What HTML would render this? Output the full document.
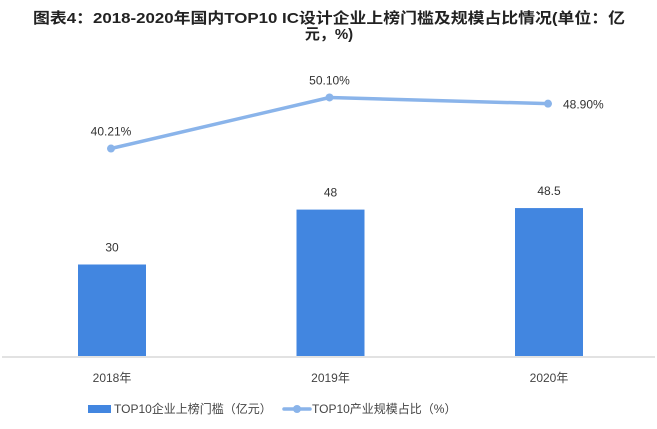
<!DOCTYPE html>
<html><head><meta charset="utf-8"><style>
body{margin:0;background:#fff}
svg{display:block;font-family:"Liberation Sans","Noto Sans CJK SC",sans-serif}
</style></head><body>
<svg id="c" width="657" height="429" viewBox="0 0 657 429">
<text x="329" y="23" text-anchor="middle" font-size="15" font-weight="bold" fill="#222" textLength="592" lengthAdjust="spacingAndGlyphs">图表4：2018-2020年国内TOP10 IC设计企业上榜门槛及规模占比情况(单位：亿</text>
<text x="329" y="39" text-anchor="middle" font-size="15" font-weight="bold" fill="#222">元，%)</text>
<line x1="2" y1="357" x2="655" y2="357" stroke="#d9d9d9" stroke-width="1.5"/>
<g id="bars"></g><g id="line"></g><g id="xl"></g>
<g>
<rect x="88" y="405" width="23" height="8" fill="#4286e0"/>
<text x="114" y="413" font-size="12" fill="#444">TOP10企业上榜门槛（亿元）</text>
<line x1="284" y1="409" x2="310" y2="409" stroke="#8ab4ea" stroke-width="3.5" stroke-linecap="round"/>
<circle cx="297" cy="409" r="4" fill="#8ab4ea"/>
<text x="312" y="413" font-size="12" fill="#444">TOP10产业规模占比（%）</text>
</g>
</svg>
<script>
const categories=["2018年","2019年","2020年"];
const barValues=[30,48,48.5];
const lineValues=[40.21,50.10,48.90];
const lineLabels=["40.21%","50.10%","48.90%"];
const ns="http://www.w3.org/2000/svg";
const base=356;
const xC=i=>112+i*218.5;
const yBar=v=>base-v*3.05;
const yLine=v=>base-v*5.16;
function mk(t,a,p){const e=document.createElementNS(ns,t);for(const k in a)e.setAttribute(k,a[k]);p.appendChild(e);return e;}
const bars=document.getElementById('bars'),line=document.getElementById('line'),xl=document.getElementById('xl');
barValues.forEach((v,i)=>{
 const r=mk('rect',{x:xC(i)-34,y:yBar(v),width:68,height:base-yBar(v),fill:'#4286e0'},bars);
 
 
 const t=mk('text',{x:xC(i),y:yBar(v)-13,'text-anchor':'middle','font-size':12,fill:'#333'},bars);
 t.textContent=v;
 
 
 const c=mk('text',{x:xC(i),y:382,'text-anchor':'middle','font-size':12,fill:'#444'},xl);
 c.textContent=categories[i];
 
 
});
const pts=lineValues.map((v,i)=>[xC(i)-1,yLine(v)]);
const pl=mk('polyline',{points:pts.map(p=>p.join(',')).join(' '),fill:'none',stroke:'#8ab4ea','stroke-width':3.5,'stroke-linejoin':'round'},line);


pts.forEach((p,i)=>{
 const c=mk('circle',{cx:p[0],cy:p[1],r:4,fill:'#8ab4ea'},line);
 
 
 const t=mk('text',{x:p[0],y:p[1]-(i===2?-5:13),'text-anchor':i===2?'start':'middle','font-size':12,fill:'#333'},line);
 if(i===2)t.setAttribute('x',p[0]+15);
 t.textContent=lineLabels[i];
 
 
});
</script>
</body></html>
